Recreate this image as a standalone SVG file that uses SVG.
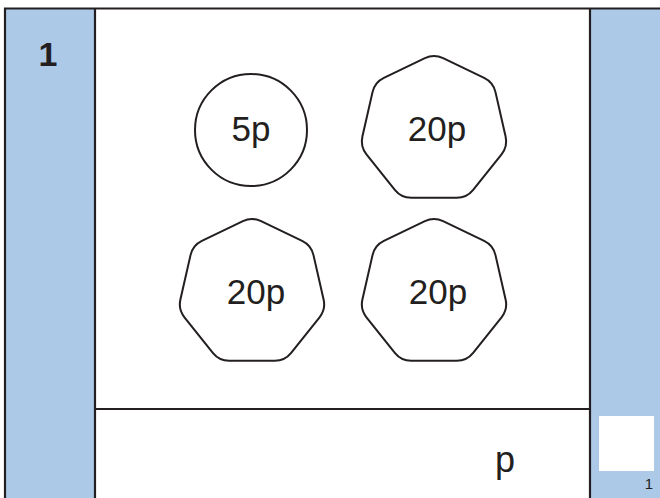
<svg xmlns="http://www.w3.org/2000/svg" xmlns:xlink="http://www.w3.org/1999/xlink" width="660" height="498" viewBox="0 0 660 498">
<style>
.line{stroke:#231f20;stroke-width:2.2;fill:none}
.coin{stroke:#231f20;stroke-width:2;fill:#ffffff}
.lbl{font-family:"Liberation Sans",Arial,sans-serif;font-size:35px;fill:#231f20;text-anchor:middle}
.panel{fill:#adc9e8}
</style>
<defs>
<path id="hept" d="M 9.01,-70.66 L 49.63,-51.10 Q 58.64,-46.76 60.87,-37.01 L 70.89,6.94 Q 73.12,16.69 66.88,24.51 L 38.78,59.75 Q 32.54,67.57 22.54,67.57 L -22.54,67.57 Q -32.54,67.57 -38.78,59.75 L -66.88,24.51 Q -73.12,16.69 -70.89,6.94 L -60.87,-37.01 Q -58.64,-46.76 -49.63,-51.10 L -9.01,-70.66 Q 0,-75 9.01,-70.66 Z"/>
</defs>
<rect x="0" y="0" width="660" height="498" fill="#ffffff"/>
<g id="frame">
<rect class="panel" x="5" y="8.5" width="90" height="489.5"/>
<rect class="panel" x="590" y="8.5" width="70" height="489.5"/>
<rect x="599" y="416" width="55" height="55" fill="#ffffff"/>
<path class="line" d="M5,498 L5,8.5 L660,8.5 M95,8.5 L95,498 M590,8.5 L590,498 M95,409 L590,409"/>
<text x="48" y="66" style="font-family:'Liberation Sans',Arial,sans-serif;font-size:34px;font-weight:bold;fill:#231f20;text-anchor:middle">1</text>
<text x="653" y="489" style="font-family:'Liberation Sans',Arial,sans-serif;font-size:15px;fill:#231f20;text-anchor:end">1</text>
<text x="505" y="472" class="lbl" style="font-size:36px">p</text>
</g>
<g id="coin-5p">
<circle class="coin" cx="251" cy="130" r="56"/>
<text class="lbl" x="251" y="141">5p</text>
</g>
<g id="coin-20p-a">
<use xlink:href="#hept" class="coin" transform="translate(434,129.5) scale(1.01)"/>
<text class="lbl" x="437" y="141">20p</text>
</g>
<g id="coin-20p-b">
<use xlink:href="#hept" class="coin" transform="translate(252,292.5) scale(1.01)"/>
<text class="lbl" x="256" y="304">20p</text>
</g>
<g id="coin-20p-c">
<use xlink:href="#hept" class="coin" transform="translate(434,292.5) scale(1.01)"/>
<text class="lbl" x="438" y="304">20p</text>
</g>
<g id="connectors"/>
</svg>
